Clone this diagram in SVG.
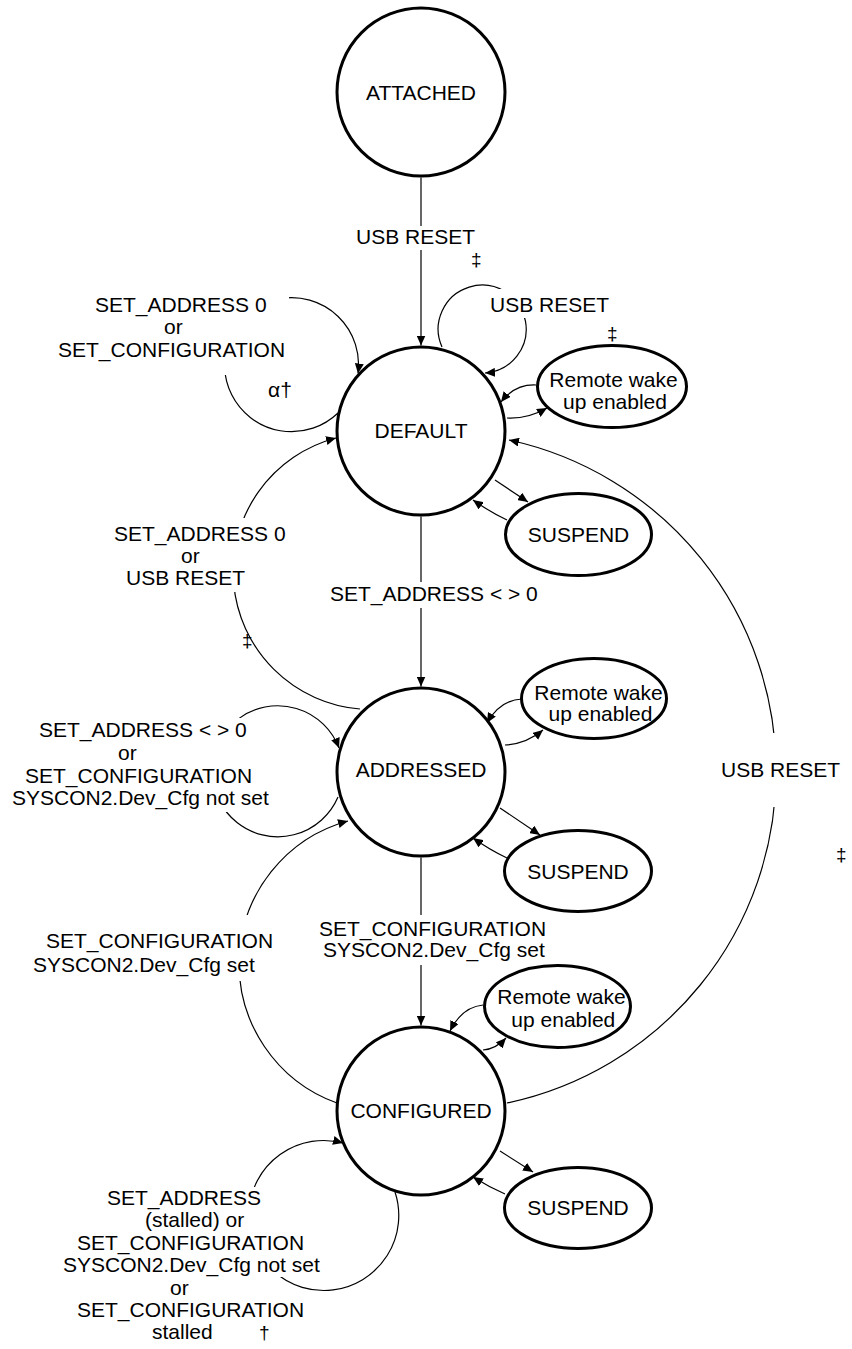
<svg xmlns="http://www.w3.org/2000/svg" width="852" height="1349" viewBox="0 0 852 1349">
<defs>
<style>
.node{fill:#fff;stroke:#000;stroke-width:3}
.edge{fill:none;stroke:#000;stroke-width:1.2}
.arr{marker-end:url(#ah)}
.bg{fill:#fff;stroke:none}
text{font-family:"Liberation Sans",Arial,sans-serif;font-size:21px;fill:#000}
.c{text-anchor:middle}
.sym{font-size:19px}
</style>
<marker id="ah" viewBox="0 0 10 9" refX="10" refY="4.5" markerWidth="10" markerHeight="9" markerUnits="userSpaceOnUse" orient="auto">
<path d="M0,0 L10,4.5 L0,9 z" fill="#000"/>
</marker>
</defs>
<rect width="852" height="1349" fill="#fff"/>

<g id="connectors">
<!-- ATTACHED -> DEFAULT -->
<path class="edge arr" d="M421,177.5 V345.5"/>
<!-- DEFAULT self loop: USB RESET -->
<path class="edge arr" d="M442,347 A44,44 0 1 1 485,373"/>
<!-- DEFAULT self loop: SET_ADDRESS 0 / SET_CONFIGURATION -->
<path class="edge arr" d="M338,413 A67,67 0 1 1 358,373.5"/>
<!-- DEFAULT <-> remote wake -->
<path class="edge arr" d="M536,385 Q515,384 501,402"/>
<path class="edge arr" d="M507,418 Q528,419 547,408"/>
<!-- DEFAULT <-> SUSPEND -->
<path class="edge arr" d="M495,480 L528,502"/>
<path class="edge arr" d="M507,520 Q490,512 473,500"/>
<!-- DEFAULT -> ADDRESSED -->
<path class="edge arr" d="M421,516.5 V686.5"/>
<!-- ADDRESSED -> DEFAULT -->
<path class="edge arr" d="M360,709 A138,138 0 0 1 336,438"/>
<!-- ADDRESSED self loop -->
<path class="edge arr" d="M338,797 A65.5,65.5 0 1 1 339,748"/>
<!-- ADDRESSED <-> remote wake -->
<path class="edge arr" d="M522,699 Q500,700 487,723"/>
<path class="edge arr" d="M505,745 Q526,744 543,730"/>
<!-- ADDRESSED <-> SUSPEND -->
<path class="edge arr" d="M500,808 L540,835"/>
<path class="edge arr" d="M507,858 Q490,850 473,838"/>
<!-- ADDRESSED -> CONFIGURED -->
<path class="edge arr" d="M421,857.5 V1025.5"/>
<!-- CONFIGURED -> ADDRESSED -->
<path class="edge arr" d="M337,1103 A148,148 0 0 1 348,821"/>
<!-- CONFIGURED <-> remote wake -->
<path class="edge arr" d="M483,1005 Q462,1007 450,1031"/>
<path class="edge arr" d="M483,1050 Q496,1049 506,1038"/>
<!-- CONFIGURED <-> SUSPEND -->
<path class="edge arr" d="M500,1151 L533,1172"/>
<path class="edge arr" d="M505,1194 Q489,1187 473,1177"/>
<!-- CONFIGURED self loop -->
<path class="edge arr" d="M395,1192 A75,75 0 1 1 343,1143"/>
<!-- CONFIGURED -> DEFAULT: USB RESET -->
<path class="edge arr" d="M507,1103 A339,339 0 0 0 509,440"/>
</g>

<g id="labels">
<rect class="bg" x="352" y="226" width="127" height="24"/>
<text x="356" y="244">USB RESET</text>
<text class="sym" x="471" y="266">‡</text>

<rect class="bg" x="487" y="289" width="125" height="29"/>
<text x="490" y="312">USB RESET</text>
<text class="sym" x="607" y="340">‡</text>

<rect class="bg" x="55" y="292" width="234" height="83"/>
<text x="95" y="312">SET_ADDRESS 0</text>
<text x="164" y="334">or</text>
<text x="58" y="357">SET_CONFIGURATION</text>
<text x="268" y="397">α†</text>

<rect class="bg" x="100" y="518" width="190" height="74"/>
<text x="114" y="541">SET_ADDRESS 0</text>
<text x="181" y="563">or</text>
<text x="126" y="585">USB RESET</text>
<text class="sym" x="242" y="647">‡</text>

<rect class="bg" x="326" y="582" width="216" height="26"/>
<text x="330" y="601">SET_ADDRESS &lt; &gt; 0</text>

<rect class="bg" x="10" y="718" width="261" height="94"/>
<text x="39" y="737">SET_ADDRESS &lt; &gt; 0</text>
<text x="118" y="760">or</text>
<text x="25" y="783">SET_CONFIGURATION</text>
<text x="12" y="805">SYSCON2.Dev_Cfg not set</text>

<rect class="bg" x="718" y="733" width="125" height="74"/>
<text x="721" y="777">USB RESET</text>
<text class="sym" x="836" y="861">‡</text>

<rect class="bg" x="316" y="915" width="235" height="50"/>
<text x="319" y="936">SET_CONFIGURATION</text>
<text x="323" y="957">SYSCON2.Dev_Cfg set</text>

<rect class="bg" x="30" y="915" width="248" height="66"/>
<text x="46" y="948">SET_CONFIGURATION</text>
<text x="33" y="972">SYSCON2.Dev_Cfg set</text>

<rect class="bg" x="60" y="1187" width="262" height="90"/>
<text x="107" y="1205">SET_ADDRESS</text>
<text x="145" y="1227">(stalled) or</text>
<text x="77" y="1250">SET_CONFIGURATION</text>
<text x="63" y="1272">SYSCON2.Dev_Cfg not set</text>
<text x="170" y="1295">or</text>
<text x="77" y="1317">SET_CONFIGURATION</text>
<text x="152" y="1339">stalled</text>
<text class="sym" x="259" y="1339">†</text>
</g>

<g id="attached">
<circle class="node" cx="421" cy="92" r="84"/>
<text class="c" x="421" y="100">ATTACHED</text>
</g>
<g id="default">
<circle class="node" cx="421" cy="431" r="84"/>
<text class="c" x="421" y="438">DEFAULT</text>
</g>
<g id="addressed">
<circle class="node" cx="421" cy="772" r="84"/>
<text class="c" x="421" y="777">ADDRESSED</text>
</g>
<g id="configured">
<circle class="node" cx="421" cy="1111" r="84"/>
<text class="c" x="421" y="1118">CONFIGURED</text>
</g>

<g id="default-remote-wake">
<ellipse class="node" cx="612" cy="386.5" rx="74.5" ry="41"/>
<text class="c" x="613.5" y="387">Remote wake</text>
<text class="c" x="615" y="409">up enabled</text>
</g>
<g id="default-suspend">
<ellipse class="node" cx="578.5" cy="534.5" rx="73" ry="41"/>
<text class="c" x="578.5" y="542">SUSPEND</text>
</g>
<g id="addressed-remote-wake">
<ellipse class="node" cx="594" cy="698.5" rx="72.5" ry="40"/>
<text class="c" x="598.5" y="700">Remote wake</text>
<text class="c" x="600.5" y="721">up enabled</text>
</g>
<g id="addressed-suspend">
<ellipse class="node" cx="578" cy="871" rx="73.5" ry="40.5"/>
<text class="c" x="578" y="879">SUSPEND</text>
</g>
<g id="configured-remote-wake">
<ellipse class="node" cx="557.5" cy="1006.5" rx="73" ry="41"/>
<text class="c" x="561.5" y="1004">Remote wake</text>
<text class="c" x="563.3" y="1027">up enabled</text>
</g>
<g id="configured-suspend">
<ellipse class="node" cx="578" cy="1208" rx="73.5" ry="40.5"/>
<text class="c" x="578" y="1215">SUSPEND</text>
</g>
</svg>
